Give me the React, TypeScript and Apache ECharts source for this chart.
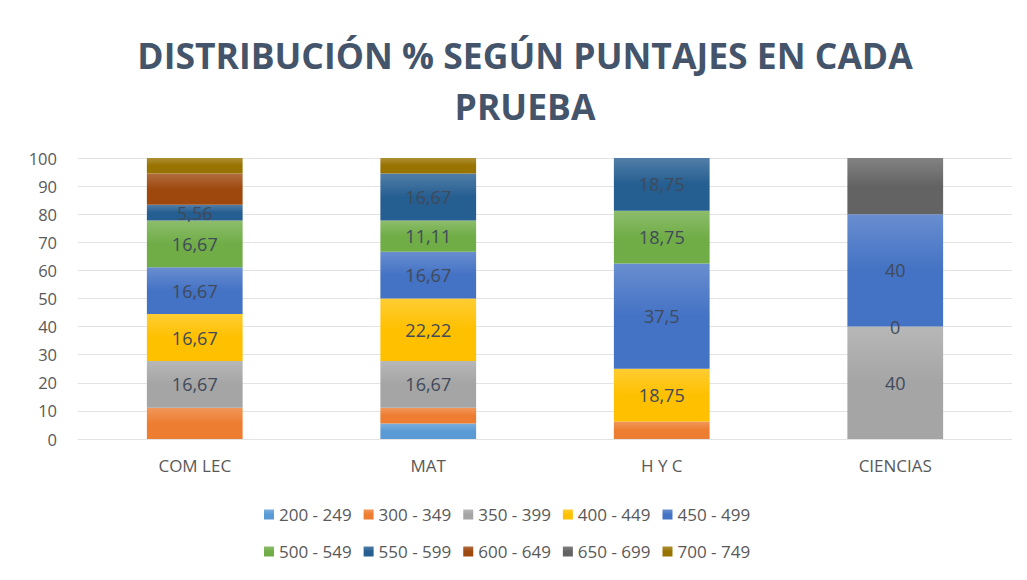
import React, { useEffect, useRef } from "react";
import * as echarts from "echarts";

const categories = ["COM LEC", "MAT", "H Y C", "CIENCIAS"];
const seriesNames = ["200 - 249", "300 - 349", "350 - 399", "400 - 449", "450 - 499", "500 - 549", "550 - 599", "600 - 649", "650 - 699", "700 - 749"];
const s200 = [null, 5.56, null, null];
const s300 = [11.11, 5.56, 6.25, null];
const s350 = [16.67, 16.67, null, 40];
const s400 = [16.67, 22.22, 18.75, 0];
const s450 = [16.67, 16.67, 37.5, 40];
const s500 = [16.67, 11.11, 18.75, null];
const s550 = [5.56, 16.67, 18.75, null];
const s600 = [11.11, null, null, null];
const s650 = [null, null, null, 20];
const s700 = [5.56, 5.56, null, null];
const seriesValues = [s200, s300, s350, s400, s450, s500, s550, s600, s650, s700];
const showLabel = [false, false, true, true, true, true, true, false, false, false];
const colors = ["#5B9BD5", "#ED7D31", "#A5A5A5", "#FFC000", "#4472C4", "#70AD47", "#255E91", "#9E480E", "#636363", "#997300"];
const yTicks = [0, 10, 20, 30, 40, 50, 60, 70, 80, 90, 100];

function lighten(hex: string, amt: number) {
  const n = parseInt(hex.slice(1), 16);
  const r = (n >> 16) & 255, g = (n >> 8) & 255, b = n & 255;
  const f = (c: number) => Math.round(c + (255 - c) * amt);
  return `rgb(${f(r)},${f(g)},${f(b)})`;
}

export default function App() {
  const ref = useRef<HTMLDivElement>(null);
  useEffect(() => {
    document.body.style.margin = "0";
    const chart = echarts.init(ref.current!, null, { renderer: "svg" });
    const font = "'Open Sans', sans-serif";
    const legendCommon = {
      left: 259,
      icon: "rect",
      itemWidth: 10,
      itemHeight: 10,
      itemGap: 12,
      textStyle: { fontFamily: font, fontSize: 17, color: "#595959" },
    };
    chart.setOption({
      animation: false,
      backgroundColor: "#ffffff",
      title: {
        text: "DISTRIBUCIÓN % SEGÚN PUNTAJES EN CADA\nPRUEBA",
        left: 520,
        textAlign: "center",
        top: 24,
        textStyle: { fontFamily: font, fontWeight: "bold", fontSize: 35.5, color: "#44546A", lineHeight: 51 },
      },
      legend: [
        { ...legendCommon, data: seriesNames.slice(0, 5), top: 501 },
        { ...legendCommon, data: seriesNames.slice(5), top: 538 },
      ],
      grid: { left: 78, right: 15, top: 158, bottom: 141, containLabel: false },
      xAxis: {
        type: "category",
        data: categories,
        axisLine: { show: false },
        axisTick: { show: false },
        axisLabel: { fontFamily: font, fontSize: 17, color: "#595959", margin: 18 },
      },
      yAxis: {
        type: "value",
        min: yTicks[0],
        max: yTicks[yTicks.length - 1],
        interval: 10,
        axisLine: { show: false },
        axisTick: { show: false },
        axisLabel: { fontFamily: font, fontSize: 16.5, color: "#595959", margin: 21 },
        splitLine: { lineStyle: { color: "#E3E3E3" } },
      },
      series: seriesValues.map((vals, i) => ({
        name: seriesNames[i],
        type: "bar",
        stack: "total",
        barWidth: "41%",
        data: vals,
        itemStyle: {
          color: new echarts.graphic.LinearGradient(0, 0, 0, 1, [
            { offset: 0, color: lighten(colors[i], 0.2) },
            { offset: 0.5, color: colors[i] },
            { offset: 1, color: colors[i] },
          ]),
        },
        label: {
          show: showLabel[i],
          position: "inside",
          fontFamily: font,
          fontSize: 18,
          color: "#404A5A",
          formatter: (p: any) => String(p.value).replace(".", ","),
        },
      })),
    });
    return () => chart.dispose();
  }, []);
  return <div ref={ref} style={{ width: 1027, height: 580 }} />;
}
